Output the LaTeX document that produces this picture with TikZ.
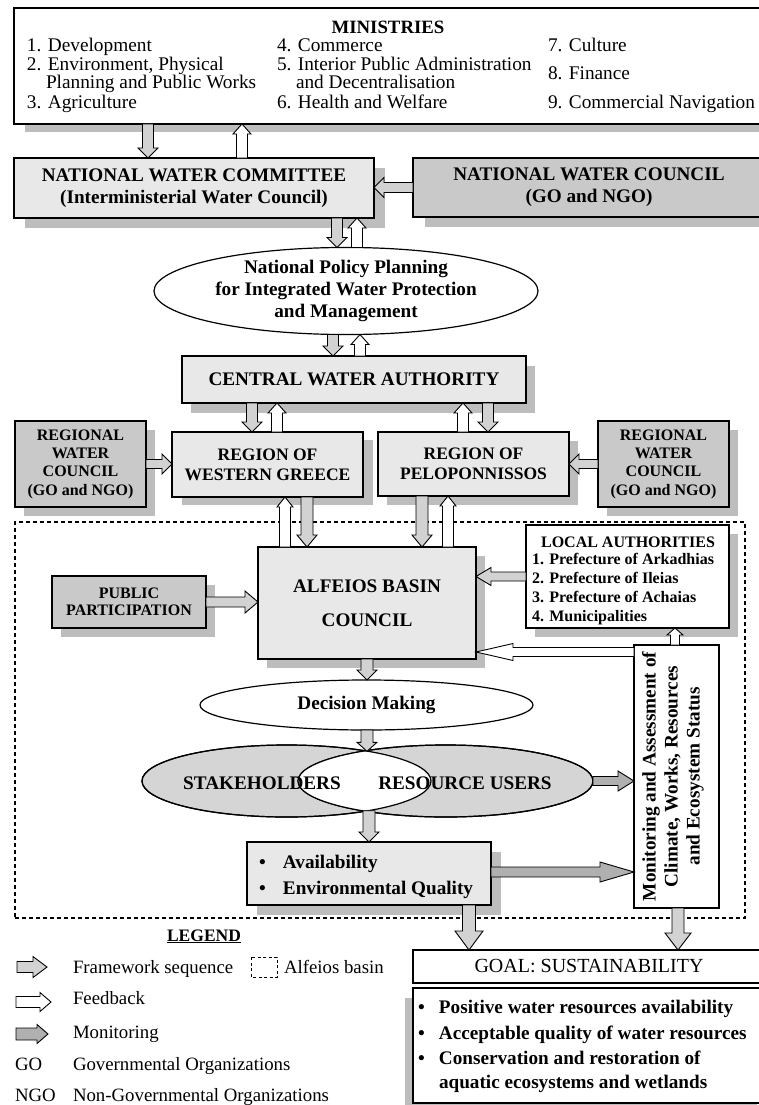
\documentclass[tikz,border=0pt]{standalone}
\usepackage{fontspec}
\setmainfont{Liberation Serif}
\usetikzlibrary{calc,shapes.geometric,shadows}
\definecolor{lg}{HTML}{E8E8E8}
\definecolor{dg}{HTML}{C9C9C9}
\definecolor{shc}{HTML}{BDBDBD}
\definecolor{af}{HTML}{D2D2D2}
\definecolor{mf}{HTML}{B0B0B0}
\definecolor{eg}{HTML}{D5D5D5}
\newcommand\barrow[6]{%
  \coordinate (ba) at #2;
  \coordinate (bb) at #3;
  \coordinate (bh) at ($(bb)!#6!(ba)$);
  \draw[#1] ($(ba)!#4!90:(bb)$) -- ($(bh)!#4!-90:(ba)$) -- ($(bh)!#5!-90:(ba)$) -- (bb) -- ($(bh)!#5!90:(ba)$) -- ($(bh)!#4!90:(ba)$) -- ($(ba)!#4!-90:(bb)$) -- cycle;}
\begin{document}
\begin{tikzpicture}[x=1pt,y=-1pt,
  box/.style={rectangle, draw, line width=1.2pt, inner sep=0pt, outer sep=0pt, align=center},
  ell/.style={ellipse, draw, line width=1.2pt, inner sep=0pt, outer sep=0pt, align=center},
  shd/.style 2 args={drop shadow={shadow xshift=#1pt, shadow yshift=-#2pt, fill=shc, opacity=1}},
  Fm/.style={font=\fontsize{19.2}{22}\selectfont\bfseries},
  Fs/.style={font=\fontsize{16}{18.3}\selectfont\bfseries},
  Fr/.style={font=\fontsize{19.3}{22}\selectfont},
  Fl/.style={font=\fontsize{18.8}{22}\selectfont},
  tx/.style={inner sep=0pt, outer sep=0pt},
  fw/.style={draw, fill=af, line width=0.9pt, line join=miter},
  fbk/.style={draw, fill=white, line width=0.9pt, line join=miter},
  mo/.style={draw, fill=mf, line width=0.9pt, line join=miter},
]
\useasboundingbox (0,0) rectangle (758,1105);
\fill[white] (0,0) rectangle (758,1105);

% ---------- Ministries
\node[box, shd={11}{8}, fill=white, minimum width=756pt, minimum height=116pt] (mini) at (392,66) {};
\node[tx, font=\fontsize{18.8}{22}\selectfont\bfseries, anchor=base] (minT) at (388,34) {MINISTRIES};
\node[tx, Fr, anchor=base west] (m1) at (27,52) {1. Development};
\node[tx, Fr, anchor=base west] (m2) at (27,71) {2. Environment, Physical};
\node[tx, Fr, anchor=base west] (m2b) at (46,89) {Planning and Public Works};
\node[tx, Fr, anchor=base west] (m3) at (27,109) {3. Agriculture};
\node[tx, Fr, anchor=base west] (m4) at (277,52) {4. Commerce};
\node[tx, Fr, anchor=base west] (m5) at (277,71) {5. Interior Public Administration};
\node[tx, Fr, anchor=base west] (m5b) at (296,89) {and Decentralisation};
\node[tx, Fr, anchor=base west] (m6) at (277,109) {6. Health and Welfare};
\node[tx, Fr, anchor=base west] (m7) at (548,52) {7. Culture};
\node[tx, Fr, anchor=base west] (m8) at (548,80) {8. Finance};
\node[tx, Fr, anchor=base west] (m9) at (548,109) {9. Commercial Navigation};

% ---------- National level
\node[box, shd={11}{10}, fill=lg, minimum width=360pt, minimum height=60pt, Fm] (ncm) at (194,188) {NATIONAL WATER COMMITTEE\\(Interministerial Water Council)};
\node[box, shd={12}{10}, fill=dg, minimum width=352pt, minimum height=59pt, Fm] (ncl) at (589,187.5) {NATIONAL WATER COUNCIL\\(GO and NGO)};
\node[ell, fill=white, minimum width=384pt, minimum height=84pt, Fm] (pol) at (346,291) {National Policy Planning\\for Integrated Water Protection\\and Management};
\node[box, shd={9}{10}, fill=lg, minimum width=344pt, minimum height=47pt, Fm] (cwa) at (354,379.5) {CENTRAL WATER AUTHORITY};

% ---------- Regional level
\node[box, shd={9}{9}, fill=dg, minimum width=131pt, minimum height=86pt, Fs] (rwl) at (80.5,464) {REGIONAL\\WATER\\COUNCIL\\(GO and NGO)};
\node[box, shd={10}{8}, fill=lg, minimum width=191pt, minimum height=65pt, font=\fontsize{17.5}{20}\selectfont\bfseries] (wg) at (267.5,464.5) {REGION OF\\WESTERN GREECE};
\node[box, shd={9}{9}, fill=lg, minimum width=191pt, minimum height=64pt, font=\fontsize{17.5}{20}\selectfont\bfseries] (pel) at (473.5,464) {REGION OF\\PELOPONNISSOS};
\node[box, shd={9}{9}, fill=dg, minimum width=131pt, minimum height=86pt, Fs] (rwr) at (663.5,464) {REGIONAL\\WATER\\COUNCIL\\(GO and NGO)};

% ---------- Basin
\node[rectangle, draw, line width=1.1pt, dash pattern=on 4pt off 3pt, minimum width=730pt, minimum height=396pt, inner sep=0pt, outer sep=0pt] (basin) at (380,720) {};
\node[box, shd={9}{9}, fill=lg, minimum width=218pt, minimum height=112pt, font=\fontsize{19.2}{34}\selectfont\bfseries] (alf) at (367,603) {ALFEIOS BASIN\\COUNCIL};
\node[box, shd={9}{9}, fill=dg, minimum width=154pt, minimum height=52pt, font=\fontsize{16}{17.5}\selectfont\bfseries] (pp) at (129,602) {PUBLIC\\PARTICIPATION};
\node[box, shd={9}{9}, fill=white, minimum width=203pt, minimum height=103pt] (la) at (627.5,576.5) {};
\node[tx, Fs, anchor=base] (laT) at (628,547) {LOCAL AUTHORITIES};
\node[tx, Fs, anchor=base west] (la1) at (532,564) {1. Prefecture of Arkadhias};
\node[tx, Fs, anchor=base west] (la2) at (532,583) {2. Prefecture of Ileias};
\node[tx, Fs, anchor=base west] (la3) at (532,602) {3. Prefecture of Achaias};
\node[tx, Fs, anchor=base west] (la4) at (532,621) {4. Municipalities};
\node[box, fill=white, minimum width=85pt, minimum height=263pt] (mon) at (676.5,776.5) {};
\node[tx, Fm, rotate=90, align=center] (monT) at (673,776.5) {Monitoring and Assessment of\\Climate, Works, Resources\\and Ecosystem Status};
\node[ell, fill=white, minimum width=333pt, minimum height=50pt, Fm] (dm) at (366.5,705) {Decision Making};
\node[ell, fill=eg, minimum width=289pt, minimum height=72pt] (stk) at (286.5,781) {};
\node[ell, fill=eg, minimum width=295pt, minimum height=72pt] (res) at (445.5,781) {};
\begin{scope}
  \clip (286.5,781) ellipse [x radius=144.5, y radius=36];
  \fill[white] (445.5,781) ellipse [x radius=147.5, y radius=36];
\end{scope}
\draw[line width=1.2pt] (286.5,781) ellipse [x radius=144.5, y radius=36];
\draw[line width=1.2pt] (445.5,781) ellipse [x radius=147.5, y radius=36];
\node[tx, Fm, anchor=base] (stkT) at (262,789) {STAKEHOLDERS};
\node[tx, Fm, anchor=base] (resT) at (465,789) {RESOURCE USERS};
\node[box, shd={10}{10}, fill=lg, minimum width=244pt, minimum height=63pt] (av) at (369,873.5) {};
\node[tx, Fm, anchor=base west] (av1) at (259,868) {\makebox[24pt][l]{\textbullet}Availability};
\node[tx, Fm, anchor=base west] (av2) at (259,894) {\makebox[24pt][l]{\textbullet}Environmental Quality};

% ---------- Goal
\node[box, fill=white, minimum width=352pt, minimum height=33pt, font=\fontsize{20}{22}\selectfont] (goal) at (589,966.5) {GOAL: SUSTAINABILITY};
\node[box, shd={-8}{10}, fill=white, minimum width=352pt, minimum height=115pt] (gb) at (589,1045.5) {};
\node[tx, Fm, anchor=base west] (g1) at (418,1013) {\makebox[21pt][l]{\textbullet}Positive water resources availability};
\node[tx, Fm, anchor=base west] (g2) at (418,1039) {\makebox[21pt][l]{\textbullet}Acceptable quality of water resources};
\node[tx, Fm, anchor=base west] (g3) at (418,1064) {\makebox[21pt][l]{\textbullet}Conservation and restoration of};
\node[tx, Fm, anchor=base west] (g4) at (439,1088) {aquatic ecosystems and wetlands};

% ---------- Arrows
\barrow{fw}{(148,0 |- mini.south)}{(148,0 |- ncm.north)}{5.5pt}{10pt}{10pt}
\barrow{fbk}{(242,0 |- ncm.north)}{(242,0 |- mini.south)}{5.5pt}{9pt}{10pt}
\barrow{fw}{(ncl.west)}{(ncm.east |- ncl.west)}{5pt}{10pt}{10pt}
\barrow{fw}{(337,0 |- ncm.south)}{(337,0 |- pol.north)}{5.5pt}{10pt}{10pt}
\barrow{fbk}{(357,0 |- pol.north)}{(357,0 |- ncm.south)}{5.5pt}{9pt}{10pt}
\barrow{fw}{(333,0 |- pol.south)}{(333,0 |- cwa.north)}{5.5pt}{10pt}{10pt}
\barrow{fbk}{(360,0 |- cwa.north)}{(360,0 |- pol.south)}{5.5pt}{9pt}{10pt}
\barrow{fw}{(252,0 |- cwa.south)}{(252,0 |- wg.north)}{5.5pt}{10pt}{10pt}
\barrow{fbk}{(277,0 |- wg.north)}{(277,0 |- cwa.south)}{5.5pt}{9pt}{10pt}
\barrow{fbk}{(463,0 |- pel.north)}{(463,0 |- cwa.south)}{5.5pt}{9pt}{10pt}
\barrow{fw}{(488,0 |- cwa.south)}{(488,0 |- pel.north)}{5.5pt}{10pt}{10pt}
\barrow{fw}{(rwl.east)}{(wg.west |- rwl.east)}{4.5pt}{10pt}{10pt}
\barrow{fw}{(rwr.west)}{(pel.east |- rwr.west)}{4.5pt}{10pt}{10pt}
\barrow{fbk}{(285,0 |- alf.north)}{(285,0 |- wg.south)}{5.5pt}{8pt}{10pt}
\barrow{fw}{(307,0 |- wg.south)}{(307,0 |- alf.north)}{6pt}{10pt}{12pt}
\barrow{fw}{(422,0 |- pel.south)}{(422,0 |- alf.north)}{6pt}{10pt}{12pt}
\barrow{fbk}{(448,0 |- alf.north)}{(448,0 |- pel.south)}{5.5pt}{8pt}{10pt}
\barrow{fw}{(pp.east)}{(alf.west |- pp.east)}{5pt}{11pt}{13pt}
\barrow{fw}{(la.west)}{(alf.east |- la.west)}{4.5pt}{9pt}{15pt}
\barrow{fbk}{(675,0 |- mon.north)}{(675,0 |- la.south)}{4.5pt}{8pt}{7pt}
\barrow{fbk}{(mon.west |- 0,652)}{(alf.east |- 0,652)}{4.5pt}{8.5pt}{37pt}
\barrow{fw}{(367,0 |- alf.south)}{(367,0 |- dm.north)}{6pt}{10pt}{10pt}
\barrow{fw}{(367,0 |- dm.south)}{(367,0 |- stk.20)}{6pt}{10pt}{9pt}
\barrow{fw}{(369,0 |- stk.-20)}{(369,0 |- av.north)}{6pt}{10pt}{10pt}
\barrow{mo}{(res.east)}{(mon.west |- res.east)}{4.5pt}{10pt}{16pt}
\barrow{mo}{(av.east |- 0,872)}{(mon.west |- 0,872)}{5pt}{10pt}{34pt}
\barrow{fw}{(469,0 |- av.south)}{(469,0 |- goal.north)}{6.5pt}{14pt}{19pt}
\barrow{fw}{(678,0 |- mon.south)}{(678,0 |- goal.north)}{6pt}{13pt}{17pt}

% ---------- Legend
\node[tx, font=\fontsize{17.5}{20}\selectfont\bfseries, anchor=base] (leg) at (204,941) {\underline{LEGEND}};
\coordinate (lfa) at (17,967); \coordinate (lfb) at (47,967);
\barrow{fw}{(lfa)}{(lfb)}{5.5pt}{10.5pt}{14pt}
\coordinate (lba) at (16,1002); \coordinate (lbb) at (51,1002);
\barrow{fbk}{(lba)}{(lbb)}{5.5pt}{9.5pt}{11pt}
\coordinate (lma) at (16,1034); \coordinate (lmb) at (48,1034);
\barrow{mo}{(lma)}{(lmb)}{6pt}{9.5pt}{11pt}
\node[tx, Fl, anchor=base west] (l1) at (73,973) {Framework sequence};
\draw[line width=1pt, dash pattern=on 3pt off 2.5pt] (251,957) rectangle (277,977);
\node[tx, Fl, anchor=base west] (l1b) at (284,973) {Alfeios basin};
\node[tx, Fl, anchor=base west] (l2) at (73,1004) {Feedback};
\node[tx, Fl, anchor=base west] (l3) at (73,1038) {Monitoring};
\node[tx, Fl, anchor=base west] (l4a) at (15,1070) {GO};
\node[tx, Fl, anchor=base west] (l4) at (73,1070) {Governmental Organizations};
\node[tx, Fl, anchor=base west] (l5a) at (15,1101) {NGO};
\node[tx, Fl, anchor=base west] (l5) at (73,1101) {Non-Governmental Organizations};
\end{tikzpicture}
\end{document}
